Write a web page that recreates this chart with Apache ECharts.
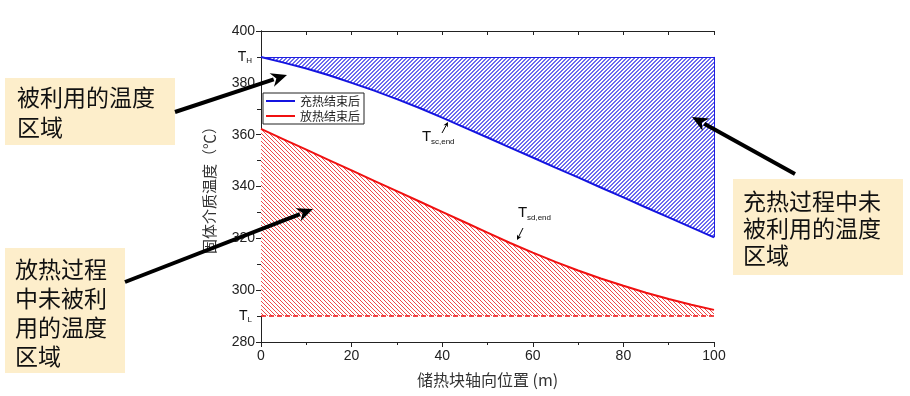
<!DOCTYPE html>
<html>
<head>
<meta charset="utf-8">
<script src="https://cdn.jsdelivr.net/npm/echarts@6/dist/echarts.min.js"></script>
<style>
  html, body { margin: 0; padding: 0; background: #fff; }
  #chart { width: 910px; height: 396px; }
</style>
</head>
<body>
<div id="chart"></div>
<script>
// 储热块轴向位置 (m)
var xPos = [0, 5, 10, 15, 20, 25, 30, 35, 40, 45, 50, 55, 60, 65, 70, 75, 80, 85, 90, 95, 100];
// 充热结束后 固体介质温度
var chargeEnd = [390, 387.8, 385.5, 382.9, 380.0, 377.0, 373.7, 370.3, 366.6, 362.7, 358.9, 355.0, 351.2, 347.3, 343.5, 339.6, 335.8, 331.9, 328.1, 324.2, 320.4];
// 放热结束后 固体介质温度
var dischargeEnd = [362.2, 358.2, 354.2, 350.2, 346.2, 342.2, 338.2, 334.2, 330.2, 326.2, 322.2, 318.2, 314.5, 310.9, 307.6, 304.5, 301.7, 299.0, 296.6, 294.4, 292.4];
var tHigh = 390;
var tLow = 290;
var legendNames = ['充热结束后', '放热结束后'];

function pairs(xs, ys) {
    var out = [];
    for (var i = 0; i < xs.length; i++) out.push([xs[i], ys[i]]);
    return out;
}

// hatch pattern tiles, drawn pixel by pixel; w = stripe width in px
function hatch(rgb, forward, w) {
    var n = 4;
    var c = document.createElement('canvas');
    c.width = n; c.height = n;
    var g = c.getContext('2d');
    g.fillStyle = '#ffffff';
    g.fillRect(0, 0, n, n);
    g.fillStyle = rgb;
    for (var i = 0; i < n; i++) {
        for (var k = 0; k < w; k++) {
            var x = forward ? (n - 1 - i + k) % n : (i + k) % n;
            g.fillRect(x, i, 1, 1);
        }
    }
    return c;
}

function arrow(x1, y1, x2, y2, w, hl, hw) {
    var dx = x2 - x1, dy = y2 - y1, L = Math.sqrt(dx * dx + dy * dy);
    var ux = dx / L, uy = dy / L;
    var bx = x2 - ux * hl, by = y2 - uy * hl;
    return [{
        type: 'line', z: 100,
        shape: { x1: x1, y1: y1, x2: bx + ux * 2, y2: by + uy * 2 },
        style: { stroke: '#000', lineWidth: w }
    }, {
        type: 'polygon', z: 100,
        shape: { points: [[x2, y2], [bx - uy * hw, by + ux * hw], [bx + ux * hl * 0.3, by + uy * hl * 0.3], [bx + uy * hw, by - ux * hw]] },
        style: { fill: '#000' }
    }];
}

function box(x, y, w, h, lines, tx, ty0, lh) {
    var els = [{
        type: 'rect', z: 90,
        shape: { x: x, y: y, width: w, height: h },
        style: { fill: '#fdeecb' }
    }];
    for (var i = 0; i < lines.length; i++) {
        els.push({
            type: 'text', z: 91,
            style: {
                text: lines[i], x: tx, y: ty0 + i * lh,
                fill: '#111', fontSize: 23, fontFamily: 'Noto Sans CJK SC',
                textVerticalAlign: 'middle'
            }
        });
    }
    return els;
}

function subLabel(x, y, main, sub) {
    return [{
        type: 'text', z: 95,
        style: { x: x, y: y, text: main, fontSize: 15, fontFamily: 'Arial', fill: '#111', textVerticalAlign: 'top' }
    }, {
        type: 'text', z: 95,
        style: { x: x + 9, y: y + 9, text: sub, fontSize: 8, fontFamily: 'Arial', fill: '#111', textVerticalAlign: 'top' }
    }];
}

var graphics = []
    .concat(box(5, 78, 170, 67, ['被利用的温度', '区域'], 17, 97, 30))
    .concat(box(5, 248, 120, 125, ['放热过程', '中未被利', '用的温度', '区域'], 15, 269, 29))
    .concat(box(733, 179, 170, 96, ['充热过程中未', '被利用的温度', '区域'], 743, 201, 27))
    .concat(arrow(175, 112, 287, 75, 4, 16, 7))
    .concat(arrow(125, 282, 313, 209, 4, 16, 7))
    .concat(arrow(795, 174, 692, 117, 4, 16, 7))
    .concat(arrow(442, 133, 448, 122, 1, 5, 2.5))
    .concat(arrow(523, 228, 517, 240, 1, 5, 2.5))
    .concat(subLabel(422, 129, 'T', 'sc,end'))
    .concat(subLabel(518, 205, 'T', 'sd,end'));

var chart = echarts.init(document.getElementById('chart'));

var axisCommon = {
    axisLine: { show: true, lineStyle: { color: '#222', width: 1 } },
    splitLine: { show: false }
};

var option = {
    animation: false,
    textStyle: { fontFamily: 'Arial, "Liberation Sans", "Noto Sans CJK SC"' },
    grid: { left: 261, right: 196, top: 31, bottom: 54 },
    legend: {
        data: legendNames,
        orient: 'vertical',
        left: 263, top: 93,
        padding: [2, 4, 2, 3],
        itemGap: 3,
        itemWidth: 29, itemHeight: 2,
        icon: 'rect',
        borderColor: '#222', borderWidth: 1,
        backgroundColor: '#fff',
        textStyle: { fontSize: 12, color: '#222', fontFamily: 'Noto Sans CJK SC' }
    },
    xAxis: [Object.assign({
        type: 'value', min: 0, max: 100, interval: 20, position: 'bottom',
        axisTick: { show: true, inside: false, length: 5, lineStyle: { color: '#222' } },
        minorTick: { show: true, splitNumber: 2, length: 3, lineStyle: { color: '#222' } },
        axisLabel: { fontSize: 14, color: '#222', margin: 7 },
        name: '储热块轴向位置 (m)', nameLocation: 'middle', nameGap: 30,
        nameTextStyle: { fontSize: 16, color: '#333', fontFamily: 'Noto Sans CJK SC' }
    }, axisCommon), Object.assign({
        type: 'value', min: 0, max: 100, interval: 10, position: 'top',
        axisTick: { show: true, inside: true, length: 4, lineStyle: { color: '#222' } },
        axisLabel: { show: false }
    }, axisCommon)],
    yAxis: [Object.assign({
        type: 'value', min: 280, max: 400, interval: 20, position: 'left',
        axisTick: { show: true, inside: false, length: 5, lineStyle: { color: '#222' } },
        minorTick: { show: true, splitNumber: 2, length: 3, lineStyle: { color: '#222' } },
        axisLabel: { fontSize: 14, color: '#222', margin: 6 },
        name: '固体介质温度（℃）', nameLocation: 'middle', nameGap: 44, nameRotate: 90,
        nameTextStyle: { fontSize: 15, color: '#333', fontFamily: 'Noto Sans CJK SC' }
    }, axisCommon), Object.assign({
        type: 'value', min: 280, max: 400, interval: 10, position: 'right',
        axisTick: { show: true, inside: true, length: 4, lineStyle: { color: '#222' } },
        axisLabel: { show: false }
    }, axisCommon)],
    series: [{
        name: legendNames[0],
        type: 'line',
        data: pairs(xPos, chargeEnd),
        symbol: 'none',
        color: '#1414e0',
        lineStyle: { color: '#1414e0', width: 2 },
        areaStyle: { origin: tHigh, opacity: 1, color: { image: hatch('#6c6cee', true, 2), repeat: 'repeat' } },
        z: 3,
        markLine: {
            silent: true, symbol: 'none', animation: false,
            lineStyle: { color: '#2020e0', width: 1, type: 'solid' },
            data: [
                [{ coord: [0, tHigh], label: { show: true, position: 'start', distance: 9, formatter: '{a|T}{b|H}',
                    rich: { a: { fontSize: 14, color: '#111' }, b: { fontSize: 8, color: '#111', padding: [8, 0, 0, 0] } } } },
                 { coord: [100, tHigh] }],
                [{ coord: [100, tHigh], label: { show: false } }, { coord: [100, chargeEnd[chargeEnd.length - 1]] }]
            ]
        }
    }, {
        name: legendNames[1],
        type: 'line',
        data: pairs(xPos, dischargeEnd),
        symbol: 'none',
        color: '#f01010',
        lineStyle: { color: '#f01010', width: 2 },
        areaStyle: { origin: tLow, opacity: 1, color: { image: hatch('#ee4a4a', false, 1), repeat: 'repeat' } },
        z: 3,
        markLine: {
            silent: true, symbol: 'none', animation: false,
            lineStyle: { color: '#f01010', width: 1.5, type: [5, 3] },
            data: [
                [{ coord: [0, tLow], label: { show: true, position: 'start', distance: 9, formatter: '{a|T}{b|L}',
                    rich: { a: { fontSize: 14, color: '#111' }, b: { fontSize: 8, color: '#111', padding: [8, 0, 0, 0] } } } },
                 { coord: [100, tLow] }]
            ]
        }
    }],
    graphic: graphics
};

chart.setOption(option);
</script>
</body>
</html>
